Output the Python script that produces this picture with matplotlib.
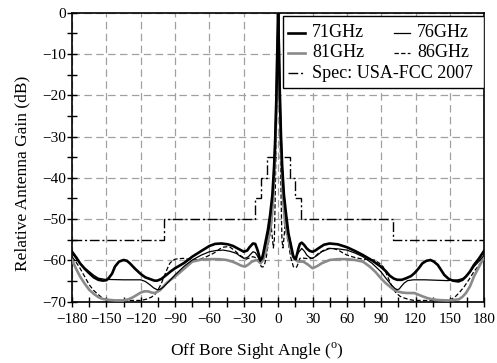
import matplotlib
matplotlib.use("Agg")
import matplotlib.pyplot as plt
from matplotlib.patches import Rectangle
from matplotlib.lines import Line2D
from matplotlib.ticker import MultipleLocator

plt.rcParams["font.family"] = ["Liberation Serif", "DejaVu Serif"]
plt.rcParams["mathtext.fontset"] = "custom"
plt.rcParams["mathtext.rm"] = "Liberation Serif"

# main lobe, shared shape per frequency
# 71 GHz
ang71 = [-180, -176, -173, -169, -165, -161, -157, -153, -150, -148, -145, -142.5,
         -139, -135, -132, -129.5, -125, -120, -116, -112, -108, -105.6, -102, -97.5,
         -94, -90, -82, -75, -67, -60, -55, -49.6, -44, -39.4, -34, -30, -27, -25,
         -22, -20, -18, -15.6, -14, -13, -9, -7, -5, -3.5, -2.5, -1.5, -0.8, 0,
         0.8, 1.5, 2.5, 3.5, 5, 7, 9, 13.3, 15.4, 16.5, 17.7, 19, 20.6, 22.5, 25,
         27.5, 30, 32.5, 35, 40, 45, 52, 60, 67, 74, 82, 89.6, 94, 97.4, 101, 104,
         108, 112, 116, 119, 122.5, 126, 129.5, 133, 136, 139.4, 142, 145, 149,
         152.6, 157.4, 161, 164, 167.5, 171, 175.5, 180]
g71 = [-57.9, -59.4, -60.7, -62.0, -63.1, -64.1, -64.7, -64.9, -64.8, -64.3, -63.2, -61.5,
       -60.3, -59.9, -60.1, -60.7, -62.0, -63.3, -64.1, -64.5, -64.9, -64.9, -64.5, -63.5,
       -62.7, -61.9, -60.6, -59.1, -57.7, -56.5, -56.0, -55.9, -56.1, -56.5, -57.3, -57.9,
       -57.6, -56.8, -55.9, -56.0, -57.5, -59.9, -59.5, -58.3, -52.7, -49, -44, -37, -30,
       -20, -10, 0, -10, -20, -30, -37, -44, -49, -53.5, -59.1, -59.7, -58.5, -57.1, -56.0,
       -55.7, -56.2, -57.1, -57.7, -57.9, -57.6, -57.1, -56.2, -55.9, -56.1, -56.8, -57.7,
       -58.7, -60.0, -61.5, -62.6, -63.7, -64.4, -64.7, -64.7, -64.3, -63.8, -63.1, -62.0,
       -60.7, -60.1, -59.9, -60.3, -61.1, -62.2, -63.5, -64.5, -64.9, -65.1, -64.7, -63.9,
       -62.7, -61.1, -59.5, -57.6]

# 76 GHz
ang76 = [-180, -176, -173, -169, -165, -161, -157, -151, -135, -120, -116, -112,
         -108.5, -105.6, -103, -100.4, -95, -90, -82, -75, -67, -60, -54, -48, -42,
         -36.5, -33, -30, -28, -26, -22, -20, -18.5, -15.6, -14, -12, -7.5, -6, -4,
         -3, -2, -1.2, -0.6, 0, 0.6, 1.2, 2, 3, 4, 6, 7.5, 10.4, 12.5, 14.2, 16,
         17.7, 20.6, 23, 25, 27.5, 30, 34, 38, 45, 52, 60, 67, 74, 82, 89.6, 94,
         98.8, 102, 104, 105.8, 107.5, 110, 113, 118, 128, 148, 157, 161, 164,
         167.5, 171, 175.5, 180]
g76 = [-58.3, -59.6, -60.7, -61.8, -62.7, -63.6, -64.3, -64.6, -64.7, -64.7, -65.1, -65.9,
       -66.7, -67.1, -67.0, -66.5, -65.0, -63.5, -61.4, -59.9, -58.7, -57.9, -57.6, -57.5,
       -57.8, -58.3, -59.0, -59.5, -59.4, -59.1, -57.9, -58.1, -58.7, -60.3, -59.2, -57.5,
       -51.8, -47, -40, -33, -24, -14, -6, 0, -6, -14, -24, -33, -40, -47, -51.8, -55,
       -58.5, -59.7, -58.9, -58.1, -57.1, -57.8, -58.7, -59.3, -59.5, -58.8, -57.9, -57.1,
       -57.2, -57.5, -58.2, -59.1, -60.7, -62.7, -64.3, -65.9, -66.8, -67.1, -66.9, -66.3,
       -65.5, -64.9, -64.7, -64.7, -64.9, -64.7, -64.4, -63.9, -62.9, -61.5, -60.2, -58.7]

# 81 GHz
ang81 = [-180, -176.5, -173, -169, -165, -161, -157, -153.5, -150, -142, -135, -130.5,
         -126.6, -123, -120, -117, -113.5, -110.5, -107.7, -103, -97.5, -94, -90, -82,
         -75, -67, -60, -52, -45, -40, -36.5, -32, -29, -26, -23, -19, -17, -15.3,
         -13, -10.4, -6, -4.5, -3.2, -2.2, -1.4, -0.7, 0, 0.7, 1.4, 2.2, 3.2, 4.5,
         6, 10.4, 12.5, 14.2, 17.7, 22, 26, 30, 34, 38, 45, 52, 60, 67, 74, 80, 85,
         89.6, 93.5, 97.4, 100.5, 104, 108.5, 113, 116, 119, 122.5, 126, 130, 134,
         140, 148, 153, 158, 161, 164, 167.5, 171, 175.5, 180]
g81 = [-59.9, -62.0, -63.9, -65.6, -67.1, -68.1, -68.9, -69.3, -69.5, -69.7, -69.7, -69.4,
       -68.9, -68.3, -67.8, -67.5, -67.5, -67.8, -67.9, -67.2, -65.5, -64.7, -63.9, -62.0,
       -60.3, -59.8, -59.7, -59.7, -59.9, -60.3, -60.7, -61.3, -61.5, -61.0, -60.3, -59.9,
       -60.2, -60.7, -59.8, -57.5, -51, -46, -38, -30, -20, -10, 0, -10, -20, -30, -38,
       -46, -51, -56.7, -58.6, -59.7, -60.3, -60.3, -61.0, -61.9, -61.4, -60.7, -59.9,
       -59.7, -59.7, -59.9, -60.3, -61.5, -62.8, -64.3, -65.4, -66.3, -67.0, -67.5, -67.8,
       -67.9, -67.9, -67.9, -68.3, -68.7, -69.1, -69.4, -69.6, -69.7, -69.6, -69.4, -68.8,
       -67.9, -66.3, -63.9, -61.5, -59.1]

# 86 GHz
ang86 = [-180, -176.5, -173, -169, -165, -161, -157, -154, -151, -145, -135, -120,
         -115, -110.6, -107.5, -104.8, -102, -99, -96.8, -94.6, -92, -90, -83, -75,
         -68, -62.6, -58, -54, -51, -48, -45, -42, -38, -33.6, -30.5, -27.8, -25, -22,
         -20, -17.6, -16, -14.7, -13.3, -12, -10.5, -9, -6, -4.2, -3.3, -2.6, -2, -1.4,
         -0.8, -0.4, 0, 0.4, 0.8, 1.4, 2, 2.6, 3.3, 4.2, 6, 9, 11, 13.3, 14.8, 16.2,
         17.5, 19, 21, 23.5, 27, 30, 32.5, 35, 39.5, 43.8, 48, 52.5, 56, 60, 67, 74,
         79, 84, 88, 91.6, 94.5, 97.4, 100, 103, 106.5, 110, 114.5, 119, 148, 152,
         155, 158.5, 162.6, 167, 171, 175.5, 180]
g86 = [-59.1, -60.4, -61.9, -63.9, -65.9, -67.3, -68.3, -69.0, -69.5, -69.7, -69.7, -69.7,
       -69.4, -68.9, -68.2, -67.1, -65.6, -63.5, -62.0, -60.7, -60.0, -59.7, -59.5, -59.9,
       -59.7, -59.1, -58.5, -57.9, -57.2, -56.8, -56.7, -56.8, -57.6, -58.7, -59.3, -59.7,
       -59.4, -59.1, -59.3, -59.9, -60.8, -61.5, -61.6, -61.1, -59.5, -56.7, -51.8, -57,
       -55, -45, -35, -25, -15, -7, 0, -7, -15, -25, -35, -45, -55, -57, -51.8, -55.9,
       -59.3, -61.5, -61.8, -61.6, -60.7, -59.5, -59.4, -59.5, -59.6, -59.5, -59.0, -58.3,
       -57.6, -57.1, -57.1, -57.5, -58.1, -58.7, -59.3, -59.7, -59.8, -59.9, -60.6, -61.5,
       -63.2, -65.1, -66.7, -67.9, -68.7, -69.1, -69.5, -69.7, -69.7, -69.3, -68.7, -67.7,
       -66.3, -64.5, -62.7, -61.1, -59.5]

# FCC 2007 mask
spec_edges = [-180, -100, -20, -15, -10, 10, 15, 20, 100, 180]
spec_level = [-55, -50, -45, -40, -35, -40, -45, -50, -55]

labels = ["71GHz", "76GHz", "81GHz", "86GHz", "Spec: USA-FCC 2007"]
gray = "#8a8a8a"

fig = plt.figure(figsize=(4.97, 3.63), dpi=100)
ax = fig.add_axes([0.1449, 0.1689, 0.8295, 0.7961])

ax.stairs(spec_level, spec_edges, baseline=None, color="black", lw=1.0,
          linestyle=(0, (7, 2, 1.5, 2)), zorder=3)
ax.plot(ang86, g86, color="black", lw=0.9, linestyle=(0, (3.5, 1.8)), zorder=4)
ax.plot(ang81, g81, color=gray, lw=1.9, zorder=4)
ax.plot(ang76, g76, color="black", lw=0.9, zorder=5)
ax.plot(ang71, g71, color="black", lw=1.9, zorder=6)

ax.set_xlim(-180, 180)
ax.set_ylim(-70, 0)
ax.xaxis.set_major_locator(MultipleLocator(30))
ax.xaxis.set_minor_locator(MultipleLocator(15))
ax.yaxis.set_major_locator(MultipleLocator(10))
ax.yaxis.set_minor_locator(MultipleLocator(5))
ax.tick_params(which="both", direction="inout", length=6.5, width=1.0, labelsize=11)
ax.tick_params(axis="x", pad=5)
ax.tick_params(axis="y", pad=1)
ax.grid(True, which="major", color="#a0a0a0", lw=0.9, linestyle=(0, (6, 3.5)))
ax.set_axisbelow(True)
for s in ax.spines.values():
    s.set_linewidth(1.2)

ax.set_xlabel(r"Off Bore Sight Angle ($^{\rm o}$)", fontsize=12.5)
ax.xaxis.set_label_coords(0.449, -0.135)
ax.xaxis.label.set_va("top")
ax.set_ylabel("Relative Antenna Gain (dB)", fontsize=12.5)
ax.yaxis.set_label_coords(-0.10, 0.445)

# legend box drawn by hand: 2 columns, spec entry spans both
ax.add_patch(Rectangle((0.512, 0.739), 0.488, 0.250, transform=ax.transAxes,
                       facecolor="white", edgecolor="black", lw=1.0, zorder=10))
styles = [dict(color="black", lw=1.9), dict(color="black", lw=0.9),
          dict(color=gray, lw=1.9), dict(color="black", lw=0.9, linestyle=(0, (3.5, 1.8))),
          dict(color="black", lw=1.0, linestyle=(0, (7, 2, 1.5, 2)))]
slots = [(0.525, 0.930), (0.780, 0.930), (0.525, 0.861), (0.780, 0.861), (0.525, 0.790)]
for lab, st, (x0, y0) in zip(labels, styles, slots):
    ax.add_line(Line2D([x0, x0 + 0.040], [y0, y0], transform=ax.transAxes, zorder=11, **st))
    ax.text(x0 + 0.057, y0, lab, transform=ax.transAxes, fontsize=13, va="center",
            ha="left", zorder=11)

fig.savefig("out.png", dpi=100)
